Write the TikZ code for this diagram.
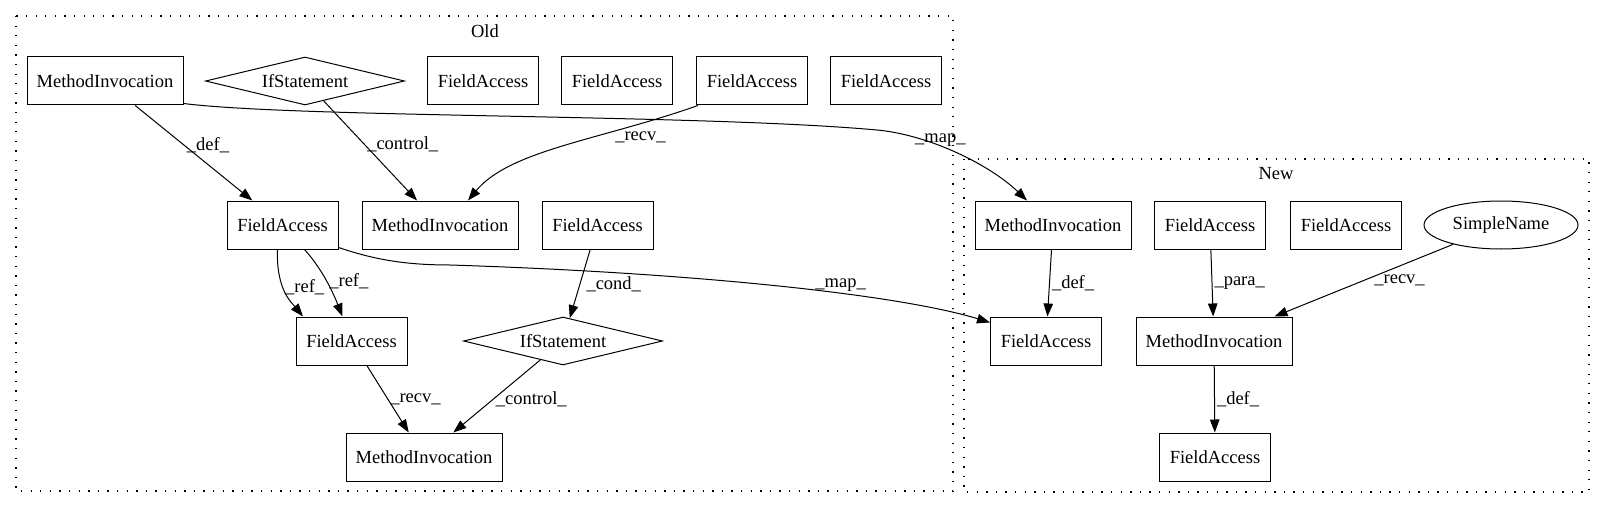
\documentclass[tikz,border=0pt]{standalone}
\usepackage{fontspec}
\setmainfont{Liberation Serif}
\usetikzlibrary{arrows.meta,shapes.geometric}

\begin{document}
\begin{tikzpicture}[x=1pt, y=1pt, line width=1pt,
        font=\fontsize{18.5}{22}\selectfont,
        >={Triangle[length=13pt,width=9.5pt]},
        box/.style={draw, rectangle, inner sep=0pt, minimum height=48pt},
        mibox/.style={box, minimum width=156pt},
        fabox/.style={box, minimum width=111pt},
        ifbox/.style={draw, diamond, inner sep=0pt, shape aspect=4, minimum width=199pt, minimum height=48pt},
        namebox/.style={draw, ellipse, inner sep=0pt, minimum width=154pt, minimum height=48pt},
        lbl/.style={inner sep=2pt},
        cluster/.style={line width=1.3pt, dash pattern=on 1.3pt off 8.3pt}]
    \useasboundingbox (0,0) rectangle (1605,-508);
    % clusters
    \draw[cluster] (16,-16) rectangle (953,-491);
    \draw[cluster] (964,-159) rectangle (1589,-492);
    \node (oldname) at (485,-31) {Old};
    \node (newname) at (1276,-174) {New};
    % old
    \node[mibox] (mi1) at (105,-81) {MethodInvocation};
    \node[ifbox] (if1) at (305,-81) {IfStatement};
    \node[fabox] (fa1) at (483,-81) {FieldAccess};
    \node[fabox] (fa2) at (617,-81) {FieldAccess};
    \node[fabox] (fa3) at (752,-81) {FieldAccess};
    \node[fabox] (fa4) at (886,-81) {FieldAccess};
    \node[fabox] (fa5) at (282.5,-225) {FieldAccess};
    \node[mibox] (mi2) at (440,-225) {MethodInvocation};
    \node[fabox] (fa6) at (597.5,-225) {FieldAccess};
    \node[fabox] (fa7) at (351.5,-341) {FieldAccess};
    \node[ifbox] (if2) at (563,-341) {IfStatement};
    \node[mibox] (mi3) at (424,-457) {MethodInvocation};
    % new
    \node[mibox] (nmi1) at (1053,-225) {MethodInvocation};
    \node[fabox] (nfa1) at (1210,-225) {FieldAccess};
    \node[fabox] (nfa2) at (1346,-225) {FieldAccess};
    \node[namebox] (nsn) at (1501,-225) {SimpleName};
    \node[fabox] (nfa3) at (1046,-341) {FieldAccess};
    \node[mibox] (nmi2) at (1214,-341) {MethodInvocation};
    \node[fabox] (nfa4) at (1215,-457) {FieldAccess};
    % edges
    \draw[->] (mi1) -- node[lbl, pos=.42, right] {\_def\_} (fa5);
    \draw[->] (if1) -- node[lbl, pos=.44, right] {\_control\_} (mi2);
    \draw[->] ([xshift=2pt]fa3.south west) .. controls (600,-140) and (510,-150) .. ([xshift=28pt]mi2.north)
        node[lbl, pos=.2, below, yshift=-6pt] {\_recv\_};
    \draw[->] ([yshift=2pt]mi1.south east) .. controls (300,-118) and (700,-114) .. (877,-130)
        .. controls (930,-135) and (990,-165) .. ([xshift=-26pt]nmi1.north)
        node[lbl, pos=.22, right, yshift=-3pt] {\_map\_};
    \draw[->] ([yshift=2pt]fa5.south east) .. controls (370,-258) and (400,-265) .. (450,-265)
        .. controls (700,-273) and (900,-295) .. ([yshift=-6pt]nfa3.north west)
        node[lbl, pos=.615, above] {\_map\_};
    \draw[->] ([xshift=-5pt]fa5.south) .. controls (276,-290) and (292,-303) .. ([xshift=-48.5pt]fa7.north)
        node[lbl, pos=.4, right] {\_ref\_};
    \draw[->] ([xshift=22pt]fa5.south) .. controls (325,-272) and (336,-300) .. ([xshift=-9pt]fa7.north)
        node[lbl, pos=.45, right] {\_ref\_};
    \draw[->] (fa6) -- node[lbl, pos=.5, right, xshift=4pt] {\_cond\_} (if2);
    \draw[->] (fa7) -- node[lbl, pos=.5, right] {\_recv\_} (mi3);
    \draw[->] (if2) -- node[lbl, pos=.54, right] {\_control\_} (mi3);
    \draw[->] (nmi1) -- node[lbl, pos=.5, right] {\_def\_} (nfa3);
    \draw[->] (nfa1) -- node[lbl, pos=.5, right] {\_para\_} (nmi2);
    \draw[->] (nsn) -- node[lbl, pos=.5, right, xshift=8pt] {\_recv\_} (nmi2);
    \draw[->] (nmi2) -- node[lbl, pos=.5, right] {\_def\_} (nfa4);
\end{tikzpicture}
\end{document}
